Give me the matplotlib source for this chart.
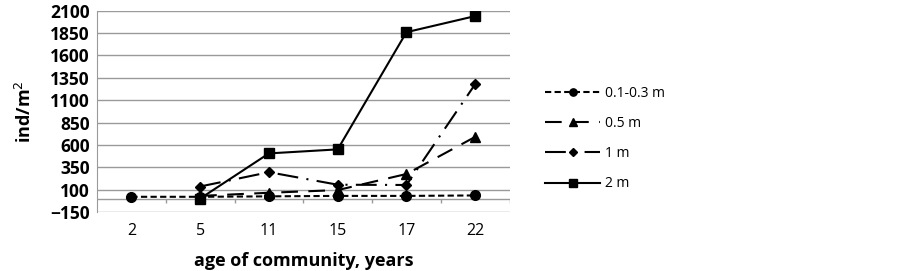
import matplotlib
matplotlib.use("Agg")
import matplotlib.pyplot as plt
import numpy as np

ages = ["2", "5", "11", "15", "17", "22"]
series_labels = ["0.1-0.3 m", "0.5 m", "1 m", "2 m"]
depth_01_03 = [20, 20, 25, 30, 30, 35]
depth_05 = [np.nan, 30, 65, 95, 275, 690]
depth_1 = [np.nan, 135, 295, 155, 152, 1280]
depth_2 = [np.nan, 0, 505, 550, 1860, 2040]
y_ticks = [-150, 100, 350, 600, 850, 1100, 1350, 1600, 1850, 2100]

plt.rcParams["font.family"] = ["Open Sans", "DejaVu Sans"]

fig = plt.figure(figsize=(9.02, 2.71), dpi=100)
ax = fig.add_axes([0.1075, 0.2177, 0.4575, 0.7428])

x = np.arange(len(ages))
styles = [
    dict(marker="o", ms=7, dashes=(3, 1.6)),
    dict(marker="^", ms=7, dashes=(8, 5)),
    dict(marker="D", ms=5, dashes=(10, 4, 1, 4)),
    dict(marker="s", ms=7, linestyle="-"),
]
for values, label, st in zip([depth_01_03, depth_05, depth_1, depth_2], series_labels, styles):
    st = dict(st)
    kw = {"dashes": st.pop("dashes")} if "dashes" in st else {}
    ax.plot(x, values, color="black", lw=1.5, label=label, zorder=3, **st, **kw)

ax.set_xlim(-0.5, len(ages) - 0.5)
ax.set_ylim(y_ticks[0], y_ticks[-1])
ax.set_yticks(y_ticks)
ax.set_xticks(x)
ax.set_xticklabels(ages)
ax.grid(axis="y", color="#9a9a9a", lw=1)
ax.set_axisbelow(True)
for side in ["top", "right", "bottom"]:
    ax.spines[side].set_visible(False)
ax.spines["left"].set_color("#9a9a9a")

# category axis crossing at zero
ax.axhline(0, color="#9a9a9a", lw=1, zorder=1)
bounds = np.arange(len(ages) + 1) - 0.5
ax.vlines(bounds[1:], -45, 0, color="#9a9a9a", lw=1, zorder=1)

ax.tick_params(axis="x", length=0, pad=8, labelsize=11.5)
ax.tick_params(axis="y", length=0, pad=5, labelsize=12.5)
for t in ax.get_yticklabels():
    t.set_fontweight("bold")

ax.set_xlabel("age of community, years", fontsize=13, fontweight="bold", labelpad=9)
ax.set_ylabel("ind/m$^2$", fontsize=13, fontweight="bold", labelpad=11)

ax.legend(loc="center left", bbox_to_anchor=(1.055, 0.365), frameon=False,
          handlelength=4.0, labelspacing=1.1, fontsize=10, handletextpad=0.3,
          markerscale=0.75)

fig.savefig("out.png", dpi=100)
